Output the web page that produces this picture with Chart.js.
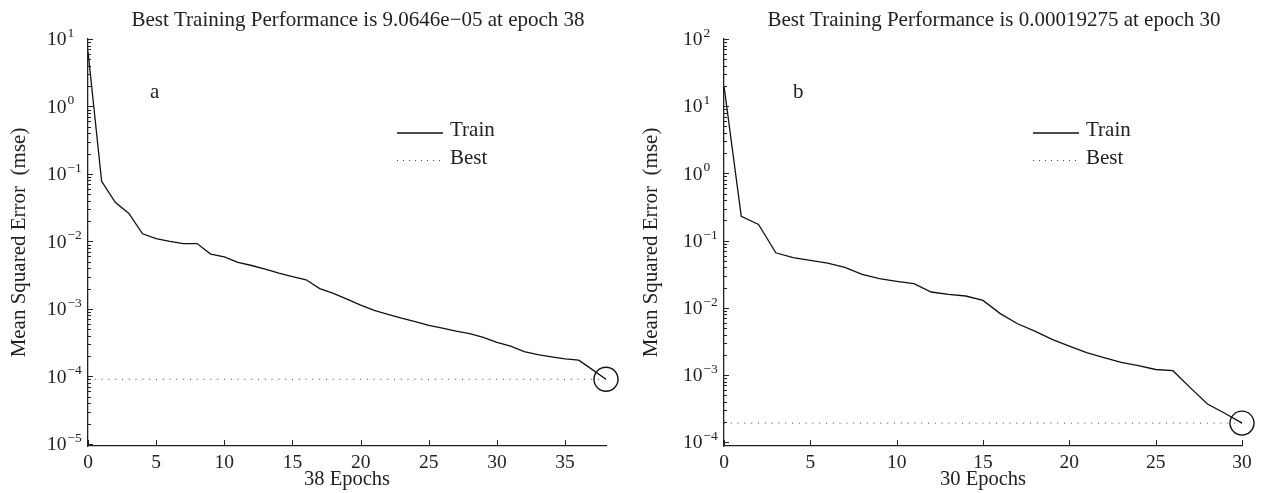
<!DOCTYPE html>
<html>
<head>
<meta charset="utf-8">
<script src="https://cdn.jsdelivr.net/npm/chart.js@4"></script>
<style>
  body { margin: 0; background: #fff; }
  .row { display: flex; width: 1265px; height: 493px; }
</style>
</head>
<body>
<div class="row">
  <canvas id="chartA" width="632" height="493"></canvas>
  <canvas id="chartB" width="633" height="493"></canvas>
</div>
<script>
// panel a
const epochsA = [0,1,2,3,4,5,6,7,8,9,10,11,12,13,14,15,16,17,18,19,20,21,22,23,24,25,26,27,28,29,30,31,32,33,34,35,36,37,38]
const trainA = [6.5, 0.078, 0.038, 0.026, 0.013, 0.011, 0.010, 0.0093, 0.0093, 0.0065, 0.0059, 0.0049,
  0.0044, 0.0039, 0.0034, 0.0030, 0.0027, 0.0020, 0.0017, 0.0014, 0.00114, 0.00095, 0.00083, 0.00073,
  0.00065, 0.00057, 0.00052, 0.00047, 0.00043, 0.00038, 0.00032, 0.00028, 0.000233, 0.00021, 0.000195,
  0.000182, 0.000174, 0.000126, 9.0646e-5]
const bestA = 9.0646e-5
const bestEpochA = 38
const xTicksA = [0, 5, 10, 15, 20, 25, 30, 35]
const decadesA = [-5, -4, -3, -2, -1, 0, 1]

// panel b
const epochsB = [0,1,2,3,4,5,6,7,8,9,10,11,12,13,14,15,16,17,18,19,20,21,22,23,24,25,26,27,28,29,30]
const trainB = [20, 0.23, 0.174, 0.066, 0.0557, 0.0508, 0.0464, 0.040, 0.0315, 0.0272, 0.0248, 0.0229,
  0.0172, 0.0159, 0.0150, 0.0129, 0.0082, 0.0058, 0.0045, 0.0034, 0.0027, 0.00216, 0.00182, 0.00154,
  0.00138, 0.00121, 0.00116, 0.00065, 0.00037, 0.00027, 0.00019275]
const bestB = 0.00019275
const bestEpochB = 30
const xTicksB = [0, 5, 10, 15, 20, 25, 30]
const decadesB = [-4, -3, -2, -1, 0, 1, 2]

const serif = '"Liberation Serif", "DejaVu Serif", serif'
const ink = '#222'

function logTicks(decades) {
  const out = []
  decades.forEach(d => {
    for (let m = 1; m <= 9; m++) {
      if (m > 1 && d === decades[decades.length - 1]) break
      out.push({ value: m * Math.pow(10, d), major: m === 1 })
    }
  })
  return out
}

function supText(d) {
  return String(d).replace('-', '\u2212')
}

// draws inward tick marks, log tick labels, title, legend and panel letter
const decorPlugin = {
  id: 'decor',
  afterDraw(chart) {
    const o = chart.options.plugins.decor
    const ctx = chart.ctx
    const xs = chart.scales.x, ys = chart.scales.y
    const area = chart.chartArea
    ctx.save()
    ctx.strokeStyle = ink
    ctx.lineWidth = 1
    ctx.beginPath()
    ys.ticks.forEach(t => {
      const y = Math.round(ys.getPixelForValue(t.value)) + 0.5
      ctx.moveTo(area.left, y)
      ctx.lineTo(area.left + (t.major ? 5 : 3), y)
    })
    xs.ticks.forEach(t => {
      const x = Math.round(xs.getPixelForValue(t.value)) + 0.5
      ctx.moveTo(x, area.bottom)
      ctx.lineTo(x, area.bottom - 6)
    })
    ctx.stroke()

    ctx.fillStyle = ink
    o.decades.forEach(d => {
      const y = ys.getPixelForValue(Math.pow(10, d))
      const x0 = area.left - 41
      ctx.font = '19.5px ' + serif
      ctx.textAlign = 'left'
      ctx.textBaseline = 'middle'
      ctx.fillText('10', x0, y + 1)
      const w = ctx.measureText('10').width
      ctx.font = '13.5px ' + serif
      ctx.textBaseline = 'alphabetic'
      ctx.fillText(supText(d), x0 + w + 1, y - 2)
    })

    ctx.font = '21px ' + serif
    ctx.textAlign = 'center'
    ctx.textBaseline = 'middle'
    ctx.fillText(o.title, (area.left + area.right) / 2 + 11, 20)

    ctx.textAlign = 'left'
    ctx.fillText(o.letter, area.left + o.letterX, 92)

    // legend
    const lx = area.left + 309
    ctx.lineWidth = 1.3
    ctx.strokeStyle = '#111'
    ctx.beginPath()
    ctx.moveTo(lx, 133)
    ctx.lineTo(lx + 46, 133)
    ctx.stroke()
    ctx.setLineDash([1, 5])
    ctx.lineWidth = 1
    ctx.strokeStyle = '#444'
    ctx.beginPath()
    ctx.moveTo(lx, 160.5)
    ctx.lineTo(lx + 46, 160.5)
    ctx.stroke()
    ctx.setLineDash([])
    ctx.fillText('Train', lx + 53, 130)
    ctx.fillText('Best', lx + 53, 158)
    ctx.restore()
  }
}

function makeChart(id, opt) {
  return new Chart(document.getElementById(id), {
    type: 'line',
    plugins: [decorPlugin],
    data: {
      datasets: [
        {
          label: 'Train',
          data: opt.epochs.map((e, i) => ({ x: e, y: opt.train[i] })),
          borderColor: '#111',
          borderWidth: 1.3,
          pointRadius: 0,
          tension: 0
        },
        {
          label: 'Best',
          data: [{ x: opt.epochs[0], y: opt.best }, { x: opt.epochs[opt.epochs.length - 1], y: opt.best }],
          borderColor: '#444',
          borderWidth: 1,
          borderDash: [1, 5.8],
          pointRadius: 0
        },
        {
          label: 'Goal',
          data: [{ x: opt.bestEpoch, y: opt.best }],
          showLine: false,
          pointRadius: 12,
          pointBorderWidth: 1.4,
          pointBorderColor: '#111',
          pointBackgroundColor: 'rgba(0,0,0,0)',
          clip: false
        }
      ]
    },
    options: {
      responsive: false,
      animation: false,
      layout: { padding: { left: 0, right: opt.padRight, top: 39, bottom: 0 } },
      plugins: {
        legend: { display: false },
        tooltip: { enabled: false },
        decor: { decades: opt.decades, title: opt.title, letter: opt.letter, letterX: opt.letterX }
      },
      scales: {
        x: {
          type: 'linear',
          min: 0,
          max: opt.epochs[opt.epochs.length - 1],
          afterBuildTicks: s => { s.ticks = opt.xTicks.map(v => ({ value: v })) },
          afterFit: s => { s.height = 47 },
          grid: { display: false, drawTicks: false },
          border: { color: ink, width: 1.3 },
          ticks: { color: ink, font: { family: serif, size: 19.5 }, padding: 5, maxRotation: 0 },
          title: { display: true, text: opt.xTitle, color: ink, font: { family: serif, size: 20.5 }, padding: { top: 0, bottom: 1 } }
        },
        y: {
          type: 'logarithmic',
          min: opt.yMin,
          max: opt.yMax,
          afterBuildTicks: s => { s.ticks = logTicks(opt.decades) },
          afterFit: s => { s.width = opt.yWidth },
          grid: { display: false, drawTicks: false },
          border: { color: ink, width: 1.3 },
          ticks: { display: false },
          title: { display: true, text: 'Mean Squared Error  (mse)', color: ink, font: { family: serif, size: 21 }, padding: { top: 7, bottom: 0 } }
        }
      }
    }
  })
}

makeChart('chartA', {
  epochs: epochsA, train: trainA, best: bestA, bestEpoch: bestEpochA,
  xTicks: xTicksA, decades: decadesA, yMin: 9.3e-6, yMax: 10,
  title: 'Best Training Performance is 9.0646e\u221205 at epoch 38',
  xTitle: '38 Epochs', letter: 'a', letterX: 62, yWidth: 88, padRight: 26
})

makeChart('chartB', {
  epochs: epochsB, train: trainB, best: bestB, bestEpoch: bestEpochB,
  xTicks: xTicksB, decades: decadesB, yMin: 8.8e-5, yMax: 100,
  title: 'Best Training Performance is 0.00019275 at epoch 30',
  xTitle: '30 Epochs', letter: 'b', letterX: 69, yWidth: 92, padRight: 23
})
</script>
</body>
</html>
